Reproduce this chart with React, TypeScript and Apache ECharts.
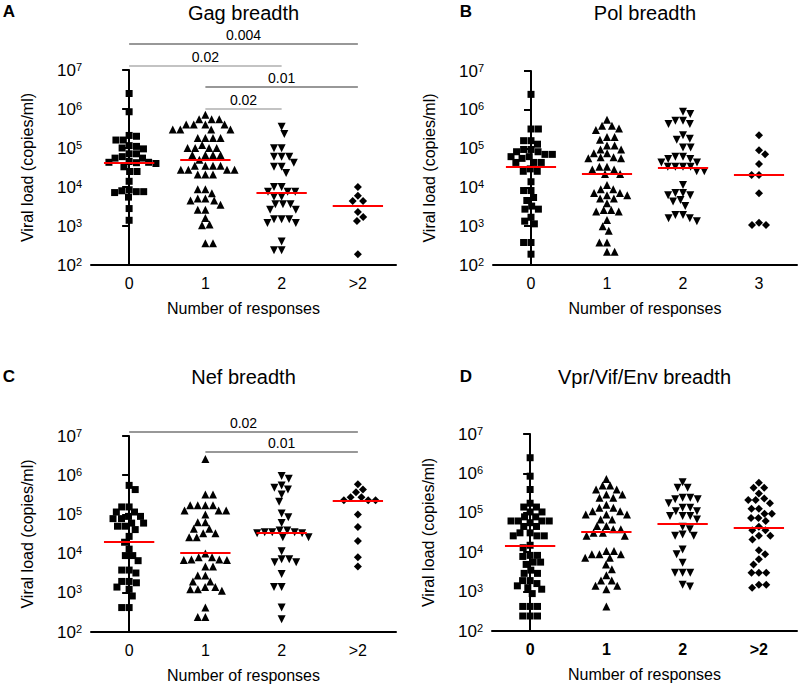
import React, { useEffect, useRef } from 'react';
import * as echarts from 'echarts';

const FONT = "'Liberation Sans', Arial, Helvetica, sans-serif";

// ---------- data (viral load, copies/ml) ----------
const gagCategories = ['0', '1', '2', '>2'];
const polCategories = ['0', '1', '2', '3'];
const nefCategories = ['0', '1', '2', '>2'];
const vprCategories = ['0', '1', '2', '>2'];

const gag0 = [2.5e6, 8.5e5, 2.1e5, 2.0e5, 1.6e5, 1.6e5, 1.15e5, 1.1e5, 1.0e5, 9.5e4, 7.1e4, 7.1e4, 6.0e4, 5.5e4, 5.5e4, 4.5e4, 4.3e4, 4.3e4, 4.2e4, 4.0e4, 3.3e4, 2.5e4, 2.5e4, 1.4e4, 8.5e3, 8.0e3, 7.6e3, 7.6e3, 7.2e3, 5.5e3, 2.8e3, 1.4e3];
const gag1 = [7.1e5, 5.5e5, 5.5e5, 5.5e5, 4.0e5, 4.0e5, 4.0e5, 4.0e5, 3.0e5, 3.0e5, 3.0e5, 3.0e5, 1.8e5, 1.8e5, 1.8e5, 1.8e5, 1.2e5, 1.0e5, 1.0e5, 1.0e5, 1.0e5, 6.6e4, 6.6e4, 6.6e4, 6.6e4, 5.0e4, 3.5e4, 3.5e4, 3.5e4, 3.5e4, 2.75e4, 2.75e4, 2.75e4, 2.75e4, 2.1e4, 2.1e4, 2.1e4, 8.7e3, 8.7e3, 6.9e3, 5.1e3, 5.1e3, 4.5e3, 4.5e3, 3.5e3, 2.6e3, 2.6e3, 1.6e3, 1.1e3, 1.05e3, 3.6e2, 3.6e2];
const gag2 = [3.5e5, 2.3e5, 9.8e4, 9.8e4, 6.0e4, 6.0e4, 6.0e4, 4.2e4, 3.3e4, 3.3e4, 2.3e4, 1.0e4, 1.0e4, 7.6e3, 7.6e3, 7.6e3, 5.6e3, 5.6e3, 3.6e3, 3.6e3, 3.6e3, 2.6e3, 2.6e3, 1.5e3, 1.5e3, 1.5e3, 1.2e3, 1.2e3, 4.0e2, 2.4e2, 2.4e2];
const gag3 = [1.0e4, 6.0e3, 4.4e3, 4.4e3, 2.3e3, 1.7e3, 1.35e3, 1.9e2];
const gagMedians = [4.2e4, 4.9e4, 7.3e3, 3.3e3];

const pol0 = [2.5e6, 3.2e5, 3.2e5, 1.6e5, 1.6e5, 1.3e5, 9.5e4, 9.5e4, 8.3e4, 8.3e4, 7.1e4, 7.1e4, 6.2e4, 6.2e4, 5.6e4, 4.4e4, 4.4e4, 4.4e4, 3.0e4, 2.6e4, 2.6e4, 1.4e4, 8.3e3, 8.3e3, 5.5e3, 4.6e3, 3.3e3, 2.75e3, 2.75e3, 1.7e3, 1.35e3, 1.15e3, 3.8e2, 3.8e2, 1.9e2];
const pol1 = [5.5e5, 3.9e5, 3.9e5, 3.3e5, 3.0e5, 2.0e5, 2.0e5, 1.7e5, 1.2e5, 1.2e5, 9.5e4, 9.5e4, 7.6e4, 7.6e4, 6.0e4, 6.0e4, 5.6e4, 5.6e4, 3.4e4, 3.4e4, 2.9e4, 2.9e4, 2.2e4, 2.2e4, 1.15e4, 8.9e3, 8.9e3, 7.2e3, 7.2e3, 6.3e3, 6.3e3, 5.2e3, 5.2e3, 3.9e3, 2.6e3, 2.6e3, 2.4e3, 2.4e3, 1.45e3, 1.0e3, 7.6e2, 3.8e2, 3.8e2, 2.2e2, 2.2e2];
const pol2 = [8.9e5, 7.8e5, 5.2e5, 5.2e5, 4.3e5, 4.3e5, 2.2e5, 1.8e5, 1.7e5, 1.07e5, 1.07e5, 6.2e4, 6.2e4, 5.4e4, 5.4e4, 4.4e4, 4.4e4, 3.4e4, 3.4e4, 3.4e4, 3.4e4, 2.6e4, 2.6e4, 1.15e4, 7.2e3, 7.2e3, 6.3e3, 6.3e3, 4.7e3, 4.3e3, 3.3e3, 1.95e3, 1.95e3, 1.6e3, 1.6e3, 1.35e3];
const pol3 = [2.2e5, 9.1e4, 7.1e4, 4.0e4, 2.1e4, 2.1e4, 7.1e3, 1.23e3, 1.07e3, 1.07e3];
const polMedians = [3.4e4, 2.3e4, 3.3e4, 2.1e4];

const nef0 = [5.5e5, 4.3e5, 1.55e5, 1.55e5, 1.15e5, 1.15e5, 8.9e4, 8.9e4, 7.8e4, 7.8e4, 6.0e4, 6.0e4, 5.0e4, 5.0e4, 4.1e4, 2.75e4, 1.95e4, 1.3e4, 8.9e3, 8.9e3, 6.6e3, 3.8e3, 3.8e3, 3.2e3, 1.95e3, 1.95e3, 1.8e3, 1.4e3, 1.23e3, 8.3e2, 4.2e2, 4.2e2];
const nef1 = [2.6e6, 3.2e5, 3.2e5, 1.7e5, 1.7e5, 1.7e5, 1.7e5, 1.26e5, 1.26e5, 1.26e5, 1.0e5, 6.3e4, 6.3e4, 4.3e4, 4.3e4, 3.3e4, 3.3e4, 2.6e4, 2.6e4, 1.0e4, 8.1e3, 8.1e3, 7.1e3, 7.1e3, 6.9e3, 6.9e3, 4.7e3, 4.7e3, 2.75e3, 2.75e3, 1.95e3, 1.95e3, 1.4e3, 1.4e3, 1.23e3, 1.23e3, 1.12e3, 4.2e2, 2.4e2, 2.4e2];
const nef2 = [9.5e5, 8.1e5, 5.5e5, 4.8e5, 4.3e5, 3.2e5, 2.1e5, 1.05e5, 8.5e4, 6.0e4, 3.9e4, 3.9e4, 3.5e4, 3.5e4, 3.5e4, 3.3e4, 3.3e4, 2.6e4, 2.6e4, 1.15e4, 7.2e3, 7.2e3, 6.0e3, 6.0e3, 3.0e3, 1.4e3, 1.4e3, 4.2e2, 2.1e2];
const nef3 = [5.9e5, 4.3e5, 3.7e5, 2.75e5, 2.75e5, 2.3e5, 2.3e5, 2.3e5, 1.0e5, 4.8e4, 2.1e4, 8.1e3, 4.7e3];
const nefMedians = [2.0e4, 1.07e4, 3.4e4, 2.2e5];

const vpr0 = [2.5e6, 8.5e5, 3.9e5, 1.75e5, 1.4e5, 1.4e5, 1.05e5, 1.05e5, 7.9e4, 7.9e4, 6.2e4, 6.2e4, 6.2e4, 6.2e4, 5.6e4, 4.5e4, 4.5e4, 3.1e4, 3.1e4, 2.6e4, 2.6e4, 2.6e4, 1.5e4, 1.3e4, 8.3e3, 8.3e3, 7.8e3, 5.6e3, 5.6e3, 4.9e3, 3.5e3, 2.9e3, 2.9e3, 1.9e3, 1.9e3, 1.6e3, 1.4e3, 1.26e3, 1.15e3, 8.9e2, 4.2e2, 4.2e2, 4.2e2, 2.4e2, 2.4e2, 2.4e2];
const vpr1 = [7.2e5, 4.9e5, 4.9e5, 3.9e5, 3.9e5, 2.9e5, 2.9e5, 2.4e5, 2.4e5, 1.6e5, 1.35e5, 1.35e5, 1.1e5, 1.1e5, 9.1e4, 9.1e4, 9.1e4, 6.8e4, 6.8e4, 4.6e4, 4.6e4, 3.8e4, 3.8e4, 3.1e4, 3.1e4, 2.6e4, 2.6e4, 1.07e4, 1.07e4, 8.9e3, 8.9e3, 8.9e3, 7.2e3, 7.2e3, 4.9e3, 3.7e3, 2.6e3, 1.9e3, 1.9e3, 1.4e3, 1.4e3, 1.15e3, 4.2e2];
const vpr2 = [6.0e5, 4.3e5, 4.3e5, 2.4e5, 2.4e5, 2.2e5, 2.2e5, 1.75e5, 1.35e5, 1.35e5, 1.1e5, 1.1e5, 8.3e4, 8.3e4, 8.3e4, 6.8e4, 4.4e4, 3.8e4, 2.8e4, 2.6e4, 2.6e4, 1.17e4, 8.9e3, 5.4e3, 3.0e3, 3.0e3, 3.0e3, 1.5e3, 1.35e3];
const vpr3 = [5.8e5, 4.3e5, 4.3e5, 3.1e5, 2.3e5, 2.1e5, 2.1e5, 1.75e5, 1.26e5, 1.26e5, 9.5e4, 9.5e4, 7.4e4, 7.4e4, 6.2e4, 4.4e4, 3.6e4, 3.6e4, 2.6e4, 2.6e4, 2.1e4, 1.12e4, 8.9e3, 6.6e3, 4.9e3, 3.0e3, 3.0e3, 3.0e3, 1.5e3, 1.5e3, 1.26e3];
const vprMedians = [1.45e4, 3.3e4, 5.2e4, 4.2e4];

const gagBrackets = [
  { from: 0, to: 3, label: '0.004', dark: true },
  { from: 0, to: 2, label: '0.02', dark: false },
  { from: 1, to: 3, label: '0.01', dark: true },
  { from: 1, to: 2, label: '0.02', dark: false },
];
const nefBrackets = [
  { from: 0, to: 3, label: '0.02', dark: true },
  { from: 1, to: 3, label: '0.01', dark: true },
];

// ---------- layout ----------
const panels = [
  { letter: 'A', title: 'Gag breadth', cats: gagCategories, groups: [gag0, gag1, gag2, gag3], medians: gagMedians, brackets: gagBrackets, bracketY: [44, 66, 87, 109], left: 91, top: 70, width: 305, height: 195, boldX: false, letterX: 9, letterY: 11, titleY: 13 },
  { letter: 'B', title: 'Pol breadth', cats: polCategories, groups: [pol0, pol1, pol2, pol3], medians: polMedians, brackets: [], bracketY: [], left: 493, top: 71, width: 304, height: 194, boldX: false, letterX: 466, letterY: 11, titleY: 13 },
  { letter: 'C', title: 'Nef breadth', cats: nefCategories, groups: [nef0, nef1, nef2, nef3], medians: nefMedians, brackets: nefBrackets, bracketY: [432, 452], left: 91, top: 436, width: 305, height: 196, boldX: false, letterX: 9, letterY: 376, titleY: 377 },
  { letter: 'D', title: 'Vpr/Vif/Env breadth', cats: vprCategories, groups: [vpr0, vpr1, vpr2, vpr3], medians: vprMedians, brackets: [], bracketY: [], left: 492, top: 434, width: 305, height: 197, boldX: true, letterX: 466, letterY: 376, titleY: 377 },
];

const symbols = [
  { symbol: 'rect', size: 7, rotate: 0, diam: 7.4 },
  { symbol: 'triangle', size: 8, rotate: 0, diam: 7.6 },
  { symbol: 'triangle', size: 8, rotate: 180, diam: 7.6 },
  { symbol: 'diamond', size: 8, rotate: 0, diam: 7.4 },
];

// beeswarm: horizontal offsets (px) so that symbols do not overlap
function swarmOffsets(values: number[], pxPerDecade: number, diam: number): number[] {
  const order = values.map((_, i) => i).sort((a, b) => values[b] - values[a]);
  const placed: { x: number; y: number }[] = [];
  const out = new Array(values.length).fill(0);
  let flip = 1;
  for (const i of order) {
    const y = Math.log10(values[i]) * pxPerDecade;
    const near = placed.filter((p) => Math.abs(p.y - y) < diam);
    const cands = [0];
    near.forEach((p) => {
      const dx = Math.sqrt(diam * diam - (p.y - y) * (p.y - y));
      cands.push(p.x + dx, p.x - dx);
    });
    cands.sort((a, b) => Math.abs(a) - Math.abs(b) || flip * (b - a));
    let chosen = 0;
    for (const c of cands) {
      if (near.every((p) => (p.x - c) * (p.x - c) + (p.y - y) * (p.y - y) >= diam * diam - 0.01)) {
        chosen = c;
        break;
      }
    }
    if (chosen !== 0) flip = -flip;
    placed.push({ x: chosen, y });
    out[i] = chosen;
  }
  return out;
}

export default function App() {
  const ref = useRef<HTMLDivElement>(null);

  useEffect(() => {
    document.body.style.margin = '0';
    if (!ref.current) return;
    const chart = echarts.init(ref.current, undefined, { renderer: 'svg' });

    const grid: any[] = [];
    const xAxis: any[] = [];
    const yAxis: any[] = [];
    const series: any[] = [];

    panels.forEach((p, pi) => {
      grid.push({ left: p.left, top: p.top, width: p.width, height: p.height, containLabel: false });
      xAxis.push({
        type: 'category',
        gridIndex: pi,
        data: p.cats,
        boundaryGap: true,
        axisLine: { lineStyle: { color: '#000', width: 2 } },
        axisTick: { alignWithLabel: true, length: 6, lineStyle: { color: '#000', width: 2 } },
        axisLabel: { color: '#000', fontSize: 16, fontFamily: FONT, margin: 10, fontWeight: p.boldX ? 'bold' : 'normal' },
        name: 'Number of responses',
        nameLocation: 'middle',
        nameGap: 35,
        nameTextStyle: { color: '#000', fontSize: 16, fontFamily: FONT },
        splitLine: { show: false },
      });
      xAxis.push({ type: 'value', gridIndex: pi, min: -0.5, max: 3.5, show: false });
      yAxis.push({
        type: 'log',
        logBase: 10,
        gridIndex: pi,
        min: 100,
        max: 1e7,
        splitNumber: 5,
        axisLine: { show: true, lineStyle: { color: '#000', width: 2 } },
        axisTick: { show: true, length: 7, lineStyle: { color: '#000', width: 2 } },
        minorTick: { show: false },
        splitLine: { show: false },
        axisLabel: {
          margin: 9,
          formatter: (v: number) => `{b|10}{s|${Math.round(Math.log10(v))}}`,
          rich: {
            b: { fontSize: 17, fontFamily: FONT, color: '#000', lineHeight: 18 },
            s: { fontSize: 11, fontFamily: FONT, color: '#000', verticalAlign: 'top', lineHeight: 18 },
          },
        },
        name: 'Viral load (copies/ml)',
        nameLocation: 'middle',
        nameGap: 56,
        nameTextStyle: { color: '#000', fontSize: 16, fontFamily: FONT },
      });

      const pxPerDecade = p.height / 5;
      const band = p.width / 4;
      p.groups.forEach((vals, gi) => {
        const sym = symbols[gi];
        const offs = swarmOffsets(vals, pxPerDecade, sym.diam);
        series.push({
          type: 'scatter',
          xAxisIndex: pi * 2 + 1,
          yAxisIndex: pi,
          symbol: sym.symbol,
          symbolSize: sym.size,
          symbolRotate: sym.rotate,
          itemStyle: { color: '#000', opacity: 1 },
          data: vals.map((v, k) => [gi + offs[k] / band, v]),
          silent: true,
          markLine: {
            silent: true,
            symbol: ['none', 'none'],
            label: { show: false },
            lineStyle: { color: '#ff0000', width: 2, type: 'solid', opacity: 1 },
            emphasis: { disabled: true },
            data: [[{ coord: [gi - 0.33, p.medians[gi]] }, { coord: [gi + 0.33, p.medians[gi]] }]],
          },
        });
      });
    });

    chart.setOption({
      animation: false,
      backgroundColor: '#fff',
      textStyle: { fontFamily: FONT },
      grid,
      xAxis,
      yAxis,
      series,
    });

    const graphic: any[] = [];
    panels.forEach((p, pi) => {
      graphic.push({
        type: 'text',
        x: p.letterX,
        y: p.letterY,
        style: { text: p.letter, font: `bold 17px ${FONT}`, fill: '#000', align: 'center', verticalAlign: 'middle' },
      });
      graphic.push({
        type: 'text',
        x: p.left + p.width / 2,
        y: p.titleY,
        style: { text: p.title, font: `20px ${FONT}`, fill: '#000', align: 'center', verticalAlign: 'middle' },
      });
      p.brackets.forEach((b, bi) => {
        const x1 = chart.convertToPixel({ xAxisIndex: pi * 2 + 1 }, b.from) as number;
        const x2 = chart.convertToPixel({ xAxisIndex: pi * 2 + 1 }, b.to) as number;
        const y = p.bracketY[bi];
        graphic.push({
          type: 'line',
          shape: { x1, y1: y, x2, y2: y },
          style: { stroke: b.dark ? '#333' : '#888', lineWidth: 1.2 },
        });
        graphic.push({
          type: 'text',
          x: (x1 + x2) / 2,
          y: y - 2,
          style: { text: b.label, font: `14px ${FONT}`, fill: '#000', align: 'center', verticalAlign: 'bottom' },
        });
      });
    });
    chart.setOption({ graphic });

    return () => chart.dispose();
  }, []);

  return <div ref={ref} style={{ width: 800, height: 686 }} />;
}
